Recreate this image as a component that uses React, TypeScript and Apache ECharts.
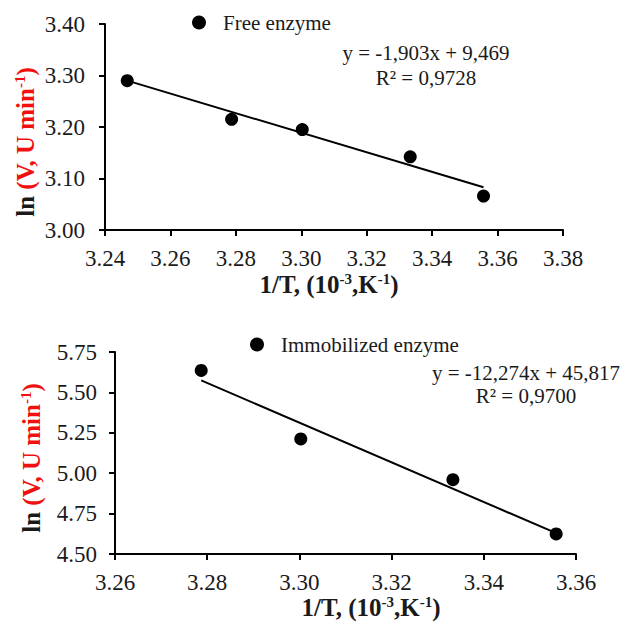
import React, { useEffect, useRef } from "react";
import * as echarts from "echarts";

// Free enzyme: 1/T (10^-3 K^-1) and ln V
const freeX = [3.2468, 3.2787, 3.3003, 3.3333, 3.3557];
const freeY = [3.290, 3.215, 3.195, 3.142, 3.066];
const freeTrend = [[3.2468, 3.290], [3.3557, 3.083]];

// Immobilized enzyme
const immX = [3.2787, 3.3003, 3.3333, 3.3557];
const immY = [5.636, 5.212, 4.960, 4.624];
const immTrend = [[3.2787, 5.574], [3.3557, 4.629]];

const freeEq = ["y = -1,903x + 9,469", "R² = 0,9728"];
const immEq = ["y = -12,274x + 45,817", "R² = 0,9700"];

const SERIF = "Liberation Serif";
const TXT = "#1a1a1a";
const RED = "#f01010";

const titleRich = {
  a: { fontFamily: SERIF, fontWeight: "bold", fontSize: 25, fill: TXT, font: "bold 25px 'Liberation Serif'" },
  b: { fontFamily: SERIF, fontWeight: "bold", fontSize: 25, fill: RED, font: "bold 25px 'Liberation Serif'" },
  bs: { fontFamily: SERIF, fontWeight: "bold", fontSize: 15, fill: RED, font: "bold 15px 'Liberation Serif'", verticalAlign: "top" },
  s: { fontFamily: SERIF, fontWeight: "bold", fontSize: 15, fill: TXT, font: "bold 15px 'Liberation Serif'", verticalAlign: "top" },
};

const yTitle = "{a|ln }{b|(V, U min}{bs|-1}{b|)}";
const xTitle = "{a|1/T, (10}{s|-3}{a|,K}{s|-1}{a|)}";

function axisX(gridIndex: number, min: number, max: number, margin: number) {
  return {
    type: "value",
    gridIndex,
    min,
    max,
    interval: 0.02,
    axisLine: { show: true, lineStyle: { color: "#000", width: 2 } },
    axisTick: { show: true, inside: false, length: 6, lineStyle: { color: "#000", width: 2 } },
    splitLine: { show: false },
    axisLabel: {
      fontFamily: SERIF,
      fontSize: 23,
      lineHeight: 20,
      color: TXT,
      margin,
      formatter: (v: number) => v.toFixed(2),
    },
  };
}

function axisY(gridIndex: number, min: number, max: number, interval: number, margin: number) {
  return {
    type: "value",
    gridIndex,
    min,
    max,
    interval,
    axisLine: { show: true, lineStyle: { color: "#000", width: 2 } },
    axisTick: { show: true, inside: false, length: 6, lineStyle: { color: "#000", width: 2 } },
    splitLine: { show: false },
    axisLabel: {
      fontFamily: SERIF,
      fontSize: 23,
      color: TXT,
      margin,
      formatter: (v: number) => v.toFixed(2),
    },
  };
}

function eqText(lines: string[], cx: number, y1: number, y2: number) {
  return lines.map((t, i) => ({
    type: "text",
    x: cx,
    y: i === 0 ? y1 : y2,
    style: {
      text: t,
      fontFamily: SERIF,
      fontSize: 21,
      fill: TXT,
      textAlign: "center",
      textVerticalAlign: "middle",
    },
  }));
}

export default function App() {
  const ref = useRef<HTMLDivElement>(null);
  useEffect(() => {
    if (!ref.current) return;
    const chart = echarts.init(ref.current, null, { renderer: "svg" });
    const option = {
      animation: false,
      backgroundColor: "#fff",
      textStyle: { fontFamily: SERIF },
      grid: [
        { left: 105, top: 24, width: 458, height: 206 },
        { left: 115, top: 352, width: 461, height: 202 },
      ],
      xAxis: [axisX(0, 3.24, 3.38, 18), axisX(1, 3.26, 3.36, 18)],
      yAxis: [axisY(0, 3.0, 3.4, 0.1, 20), axisY(1, 4.5, 5.75, 0.25, 18)],
      legend: [
        {
          data: [{ name: "Free enzyme", icon: "circle" }],
          left: 192,
          top: 12,
          padding: 0,
          itemWidth: 38,
          itemHeight: 14,
          textStyle: { fontFamily: SERIF, fontSize: 21, color: TXT },
        },
        {
          data: [{ name: "Immobilized enzyme", icon: "circle" }],
          left: 250,
          top: 334,
          padding: 0,
          itemWidth: 38,
          itemHeight: 14,
          textStyle: { fontFamily: SERIF, fontSize: 21, color: TXT },
        },
      ],
      series: [
        {
          name: "Free enzyme",
          type: "scatter",
          xAxisIndex: 0,
          yAxisIndex: 0,
          symbol: "circle",
          symbolSize: 13,
          itemStyle: { color: "#000", opacity: 1 },
          data: freeX.map((x, i) => [x, freeY[i]]),
          z: 3,
        },
        {
          name: "Free trend",
          type: "line",
          xAxisIndex: 0,
          yAxisIndex: 0,
          showSymbol: false,
          lineStyle: { color: "#000", width: 2 },
          data: freeTrend,
          z: 2,
        },
        {
          name: "Immobilized enzyme",
          type: "scatter",
          xAxisIndex: 1,
          yAxisIndex: 1,
          symbol: "circle",
          symbolSize: 13,
          itemStyle: { color: "#000", opacity: 1 },
          data: immX.map((x, i) => [x, immY[i]]),
          z: 3,
        },
        {
          name: "Imm trend",
          type: "line",
          xAxisIndex: 1,
          yAxisIndex: 1,
          showSymbol: false,
          lineStyle: { color: "#000", width: 2 },
          data: immTrend,
          z: 2,
        },
      ],
      graphic: [
        ...eqText(freeEq, 426, 53, 78),
        ...eqText(immEq, 526, 373, 396),
        {
          type: "text",
          x: 25,
          y: 142,
          rotation: Math.PI / 2,
          style: { text: yTitle, rich: titleRich, textAlign: "center", textVerticalAlign: "middle" },
        },
        {
          type: "text",
          x: 31,
          y: 458,
          rotation: Math.PI / 2,
          style: { text: yTitle, rich: titleRich, textAlign: "center", textVerticalAlign: "middle" },
        },
        {
          type: "text",
          x: 329,
          y: 284,
          style: { text: xTitle, rich: titleRich, textAlign: "center", textVerticalAlign: "middle" },
        },
        {
          type: "text",
          x: 371,
          y: 607,
          style: { text: xTitle, rich: titleRich, textAlign: "center", textVerticalAlign: "middle" },
        },
      ],
    };
    chart.setOption(option as any);
    return () => chart.dispose();
  }, []);
  return (
    <div
      ref={ref}
      style={{ position: "fixed", left: 0, top: 0, width: 623, height: 623 }}
    />
  );
}
